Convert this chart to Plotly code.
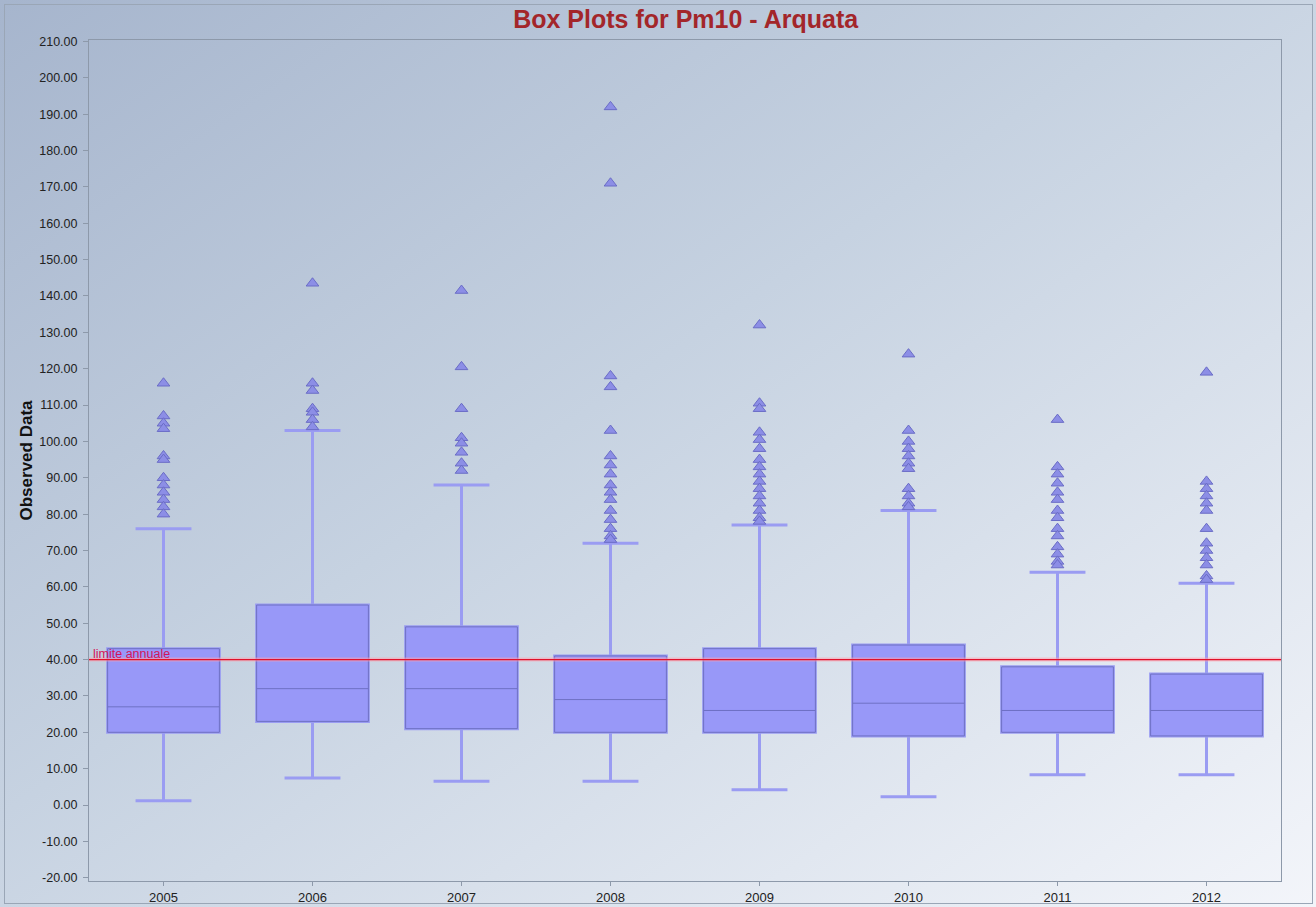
import base64
import plotly.graph_objects as go

# Annual PM10 statistics, Arquata station
years = ["2005", "2006", "2007", "2008", "2009", "2010", "2011", "2012"]
q1 = [20, 23, 21, 20, 20, 19, 20, 19]
median = [27, 32, 32, 29, 26, 28, 26, 26]
q3 = [43, 55, 49, 41, 43, 44, 38, 36]
lower_whisker = [1.2, 7.4, 6.5, 6.5, 4.2, 2.3, 8.3, 8.3]
upper_whisker = [76, 103, 88, 72, 77, 81, 64, 61]

outliers = {
    "2005": [116, 107, 105, 103.5, 96, 95, 90, 88, 86, 84, 82, 80],
    "2006": [143.5, 116, 114, 109, 108, 106, 104],
    "2007": [141.5, 120.5, 109, 101, 99.5, 97, 94, 92],
    "2008": [192, 171, 118, 115, 103, 96, 93.5, 91, 88, 86, 84, 81, 78.5, 76, 74, 73],
    "2009": [132, 110.5, 109, 102.5, 100.5, 98, 95, 93, 91, 89, 87, 85, 83, 81, 79, 78],
    "2010": [124, 103, 100, 98, 96, 94, 92.5, 87, 85, 83, 82],
    "2011": [106, 93, 91, 88.5, 86, 84, 81, 79, 76, 74, 71, 69, 67, 66],
    "2012": [119, 89, 87, 85, 83, 81, 76, 72, 70, 68, 66, 63, 62],
}

annual_limit = 40
limit_label = "limite annuale"
y_ticks = list(range(-20, 211, 10))
y_ticktext = [f"{v:.2f}" for v in y_ticks]

W, H = 1316, 907
ML, MR, MT, MB = 89, 35, 40, 26
PW, PH = W - ML - MR, H - MT - MB

fig = go.Figure()

# whiskers (thick, light) drawn underneath the box bodies
fig.add_trace(go.Box(
    x=years, q1=q1, median=median, q3=q3,
    lowerfence=lower_whisker, upperfence=upper_whisker,
    boxpoints=False, width=0.75, whiskerwidth=0.5,
    line=dict(color="#9a9cf2", width=3),
    fillcolor="#9898f8", hoverinfo="skip", showlegend=False,
))
# box bodies with thin dark outline and median
fig.add_trace(go.Box(
    x=years, q1=q1, median=median, q3=q3,
    lowerfence=q1, upperfence=q3,
    boxpoints=False, width=0.75, whiskerwidth=0,
    line=dict(color="#6e70c4", width=1),
    fillcolor="#9898f8", showlegend=False,
))

ox, oy = [], []
for yr in years:
    for v in outliers[yr]:
        ox.append(yr)
        oy.append(v)
fig.add_trace(go.Scatter(
    x=ox, y=oy, mode="markers", showlegend=False,
    marker=dict(symbol="triangle-up", size=11, color="#8c8ee6",
                line=dict(color="#6a6cc6", width=1)),
))

# annual limit line with a soft halo
fig.add_shape(type="line", xref="paper", yref="y", x0=0, x1=1,
              y0=annual_limit, y1=annual_limit,
              line=dict(color="rgba(255,160,175,0.55)", width=4))
fig.add_shape(type="line", xref="paper", yref="y", x0=0, x1=1,
              y0=annual_limit, y1=annual_limit,
              line=dict(color="#e0102a", width=1.3))
fig.add_annotation(x=0, xref="paper", xanchor="left", xshift=2,
                   y=annual_limit, yref="y", yanchor="bottom", yshift=-3,
                   text=limit_label, showarrow=False,
                   font=dict(family="Liberation Sans, Arial", size=12.5, color="#d4145a"))

# diagonal gradient background behind the whole figure
svg = (
    '<svg xmlns="http://www.w3.org/2000/svg" width="1316" height="907" '
    'preserveAspectRatio="none">'
    '<defs><linearGradient id="g" x1="0" y1="0" x2="1" y2="1">'
    '<stop offset="0" stop-color="#a6b5cd"/>'
    '<stop offset="0.45" stop-color="#c6d2e1"/>'
    '<stop offset="1" stop-color="#f3f5fa"/>'
    '</linearGradient></defs>'
    '<rect width="1316" height="907" fill="url(#g)"/>'
    '<rect x="4.5" y="4.5" width="1308" height="899" fill="none" '
    'stroke="#9aa6b6" stroke-width="1"/>'
    '</svg>'
)
src = "data:image/svg+xml;base64," + base64.b64encode(svg.encode()).decode()
fig.add_layout_image(
    source=src, xref="paper", yref="paper",
    x=-ML / PW, y=1 + MT / PH, sizex=W / PW, sizey=H / PH,
    xanchor="left", yanchor="top", sizing="stretch", layer="below",
)

fig.update_layout(
    width=W, height=H,
    margin=dict(l=ML, r=MR, t=MT, b=MB, autoexpand=False),
    paper_bgcolor="rgba(0,0,0,0)", plot_bgcolor="rgba(0,0,0,0)",
    boxmode="overlay",
    font=dict(family="Liberation Sans, Arial", size=12, color="#222222"),
    title=dict(text="<b>Box Plots for Pm10 - Arquata</b>", x=0.521, xanchor="center",
               y=1 - 19 / H, yanchor="middle",
               font=dict(family="Liberation Sans, Arial", size=25, color="#a3262a")),
    xaxis=dict(type="category", range=[-0.5, 7.5], showgrid=False, zeroline=False,
               automargin=False,
               showline=True, linecolor="#8d99aa", mirror=True,
               ticks="outside", ticklen=4, tickcolor="#8d99aa",
               tickfont=dict(size=13, color="#222222")),
    yaxis=dict(range=[-20.9, 210.4], tickvals=y_ticks, ticktext=y_ticktext,
               showgrid=False, zeroline=False, automargin=False,
               showline=True, linecolor="#8d99aa", mirror=True,
               ticks="outside", ticklen=5, tickcolor="#8d99aa",
               ticklabelstandoff=3,
               tickfont=dict(size=12.5, color="#222222"),
               title=dict(text="<b>Observed Data</b>", standoff=2,
                          font=dict(size=17, color="#111111"))),
)

fig.write_html("out.html")
